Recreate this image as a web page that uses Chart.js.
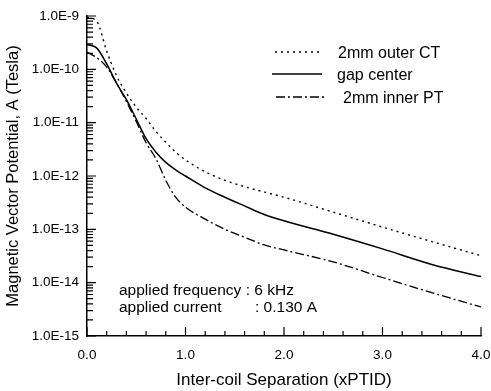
<!DOCTYPE html>
<html>
<head>
<meta charset="utf-8">
<script src="https://cdn.jsdelivr.net/npm/chart.js@4/dist/chart.umd.min.js"></script>
<style>
  html, body { margin: 0; padding: 0; background: #fff; }
  #wrap { width: 491px; height: 391px; }
</style>
</head>
<body>
<div id="wrap"><canvas id="chart"></canvas></div>
<script>
// separación entre bobinas (xPTID)
const separation = [0, 0.1, 0.2, 0.3, 0.4, 0.5, 0.6, 0.7, 0.8, 0.9, 1.0,
                    1.2, 1.4, 1.6, 1.8, 2.0, 2.5, 3.0, 3.5, 4.0];

// potencial vector magnético (Tesla)
const outerCT = [9.5e-10, 7.9e-10, 2.2e-10, 7.6e-11, 3.6e-11, 1.95e-11, 1.2e-11, 6.8e-12, 4.3e-12, 2.8e-12, 2.0e-12,
                 1.2e-12, 8.3e-13, 6.3e-13, 5.0e-13, 4.0e-13, 2.1e-13, 1.1e-13, 5.9e-14, 3.2e-14];
const gapCenter = [2.9e-10, 2.5e-10, 1.26e-10, 5.5e-11, 2.7e-11, 1.17e-11, 5.0e-12, 2.8e-12, 1.8e-12, 1.3e-12, 1.0e-12,
                   6.0e-13, 4.0e-13, 2.75e-13, 1.9e-13, 1.45e-13, 8.1e-14, 4.3e-14, 2.2e-14, 1.3e-14];
const innerPT = [2.1e-10, 1.65e-10, 1.1e-10, 5.5e-11, 2.5e-11, 1.05e-11, 4.2e-12, 2.1e-12, 8.3e-13, 4.0e-13, 2.6e-13,
                 1.55e-13, 1.0e-13, 7.1e-14, 5.1e-14, 4.1e-14, 2.45e-14, 1.25e-14, 6.5e-15, 3.5e-15];

const seriesLabels = ['2mm outer CT', 'gap center', '2mm inner PT'];
const xTickValues = [0, 1, 2, 3, 4];
const xTickLabels = ['0.0', '1.0', '2.0', '3.0', '4.0'];
const yTickValues = [1e-15, 1e-14, 1e-13, 1e-12, 1e-11, 1e-10, 1e-9];
const yTickLabels = ['1.0E-15', '1.0E-14', '1.0E-13', '1.0E-12', '1.0E-11', '1.0E-10', '1.0E-9'];
const noteLines = ['applied frequency : 6 kHz', 'applied current', ': 0.130 A'];

const FONT = '"Liberation Sans", Arial, sans-serif';

function toPoints(values) {
    return values.map((v, i) => ({ x: separation[i], y: v }));
}

function makeDataset(label, values, dash, width) {
    return {
        label,
        data: toPoints(values),
        borderColor: '#000',
        borderWidth: width,
        borderDash: dash,
        pointRadius: 0,
        fill: false,
        cubicInterpolationMode: 'monotone'
    };
}

// marcas hacia dentro, leyenda y nota de condiciones
const decorPlugin = {
    id: 'decor',
    afterDraw(chart) {
        const { ctx, chartArea, scales } = chart;
        const xs = scales.x, ys = scales.y;
        ctx.save();
        ctx.strokeStyle = '#000';
        ctx.lineWidth = 1.2;
        ctx.beginPath();
        // eje x: mayor cada 1.0, menor cada 0.2
        for (let k = 0; k <= 20; k++) {
            const px = xs.getPixelForValue(k * 0.2);
            const len = (k % 5 === 0) ? 9 : 5;
            ctx.moveTo(px, chartArea.bottom);
            ctx.lineTo(px, chartArea.bottom - len);
        }
        // eje y logarítmico: décadas y subdivisiones 2..9
        for (let e = -15; e <= -9; e++) {
            const py = ys.getPixelForValue(Math.pow(10, e));
            ctx.moveTo(chartArea.left, py);
            ctx.lineTo(chartArea.left + 9, py);
            if (e === -9) continue;
            for (let m = 2; m <= 9; m++) {
                const pm = ys.getPixelForValue(m * Math.pow(10, e));
                ctx.moveTo(chartArea.left, pm);
                ctx.lineTo(chartArea.left + 6, pm);
            }
        }
        ctx.stroke();

        // leyenda
        const legendRows = [
            { x0: 275, x1: 322, y: 52, tx: 338 },
            { x0: 272, x1: 322, y: 74, tx: 337 },
            { x0: 276, x1: 325, y: 97, tx: 343 }
        ];
        ctx.font = '16px ' + FONT;
        ctx.fillStyle = '#000';
        ctx.textBaseline = 'middle';
        chart.data.datasets.forEach((ds, i) => {
            const r = legendRows[i];
            ctx.setLineDash(ds.borderDash || []);
            ctx.lineWidth = ds.borderWidth;
            ctx.beginPath();
            ctx.moveTo(r.x0, r.y);
            ctx.lineTo(r.x1, r.y);
            ctx.stroke();
            ctx.setLineDash([]);
            ctx.fillText(ds.label, r.tx, r.y + 2);
        });

        // nota
        ctx.font = '15.5px ' + FONT;
        ctx.fillText(noteLines[0], 119, 291);
        ctx.fillText(noteLines[1], 119, 308);
        ctx.fillText(noteLines[2], 255, 308);
        ctx.restore();
    }
};

new Chart(document.getElementById('chart'), {
    type: 'line',
    data: {
        datasets: [
            makeDataset(seriesLabels[0], outerCT, [2, 4], 1.4),
            makeDataset(seriesLabels[1], gapCenter, [], 1.5),
            makeDataset(seriesLabels[2], innerPT, [9, 3, 2, 3], 1.3)
        ]
    },
    options: {
        responsive: true,
        maintainAspectRatio: false,
        animation: false,
        layout: { padding: { top: 16, right: 10, left: 0, bottom: 0 } },
        plugins: {
            legend: { display: false },
            tooltip: { enabled: false }
        },
        scales: {
            x: {
                type: 'linear',
                min: 0,
                max: 4,
                grid: { display: false, drawTicks: false },
                border: { display: true, color: '#000', width: 1.5 },
                afterBuildTicks: (scale) => { scale.ticks = xTickValues.map(v => ({ value: v })); },
                afterFit: (scale) => {
                    scale.height = 55;
                    scale.paddingLeft = 0;
                    scale.paddingRight = 0;
                },
                ticks: {
                    padding: 11,
                    color: '#000',
                    font: { family: FONT, size: 13.5 },
                    maxRotation: 0,
                    callback: (v) => xTickLabels[xTickValues.indexOf(v)]
                },
                title: {
                    display: true,
                    text: 'Inter-coil Separation (xPTID)',
                    color: '#000',
                    font: { family: FONT, size: 17 },
                    padding: { top: 0, bottom: 0 }
                }
            },
            y: {
                type: 'logarithmic',
                min: 1e-15,
                max: 1e-9,
                grid: { display: false, drawTicks: false },
                border: { display: true, color: '#000', width: 1.5 },
                afterBuildTicks: (scale) => { scale.ticks = yTickValues.map(v => ({ value: v })); },
                afterFit: (scale) => {
                    scale.width = 87;
                    scale.paddingTop = 0;
                    scale.paddingBottom = 0;
                },
                ticks: {
                    padding: 8,
                    color: '#000',
                    font: { family: FONT, size: 13.5 },
                    callback: (v) => yTickLabels[yTickValues.findIndex(t => Math.abs(Math.log10(t) - Math.log10(v)) < 1e-6)]
                },
                title: {
                    display: true,
                    text: 'Magnetic Vector Potential, A (Tesla)',
                    color: '#000',
                    font: { family: FONT, size: 16.5 },
                    padding: { top: 4, bottom: 0 }
                }
            }
        }
    },
    plugins: [decorPlugin]
});
</script>
</body>
</html>
